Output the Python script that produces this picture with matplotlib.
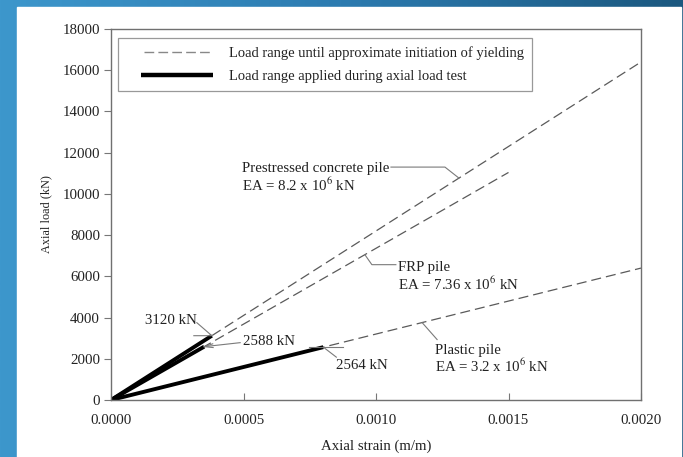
import matplotlib

matplotlib.use("Agg")

import matplotlib.pyplot as plt
import numpy as np
from matplotlib.legend_handler import HandlerLine2D
from matplotlib.lines import Line2D
from matplotlib.patches import Rectangle

plt.rcParams["font.family"] = ["Liberation Serif", "DejaVu Serif"]
plt.rcParams["mathtext.fontset"] = "stix"

# pile stiffness (kN) and load values
pile_names = ["Prestressed concrete pile", "FRP pile", "Plastic pile"]
pile_ea = [8.2e6, 7.36e6, 3.2e6]
ea_labels = ["8.2", "7.36", "3.2"]
strain_limit = [0.0020, 0.0015, 0.0020]
test_load = [3120, 2588, 2564]
# strain where each pile label's leader touches its line
leader_strain = [0.001313, 0.000958, 0.001174]

x_ticks = [0.0, 0.0005, 0.0010, 0.0015, 0.0020]
y_ticks = [0, 2000, 4000, 6000, 8000, 10000, 12000, 14000, 16000, 18000]

DASH_COLOR = "#5a5a5a"
LEADER_COLOR = "#7a7a7a"
TEXT_COLOR = "#222222"
FS = 10.7

fig = plt.figure(figsize=(6.83, 4.57), dpi=100)

# blue frame background with gradient
bg = fig.add_axes([0, 0, 1, 1], zorder=-10)
grad = np.linspace(0, 1, 256).reshape(1, -1)
cmap = matplotlib.colors.LinearSegmentedColormap.from_list("frame", ["#3d97cc", "#2c7bb0", "#1b587f"])
bg.imshow(grad, aspect="auto", cmap=cmap, extent=[0, 1, 0, 1])
bg.add_patch(Rectangle((17 / 683, 0), (681 - 17) / 683, 450 / 457, color="white"))
bg.set_xlim(0, 1)
bg.set_ylim(0, 1)
bg.axis("off")

ax = fig.add_axes([111 / 683, 57 / 457, 530 / 683, 371 / 457])

for ea, limit, load in zip(pile_ea, strain_limit, test_load):
    ax.plot([0, limit], [0, ea * limit], color=DASH_COLOR, lw=0.9, dashes=(8, 4))
    ax.plot([0, load / ea], [0, load], color="black", lw=2.8, solid_capstyle="butt")

ax.set_xlim(0, 0.002)
ax.set_ylim(0, 18000)
ax.set_xticks(x_ticks)
ax.set_xticklabels([f"{v:.4f}" for v in x_ticks])
ax.set_yticks(y_ticks)
ax.set_yticklabels([str(v) for v in y_ticks])
ax.tick_params(axis="x", direction="in", length=5, pad=10, labelsize=FS, colors="#777777", labelcolor=TEXT_COLOR)
ax.tick_params(axis="y", direction="out", length=5, pad=3, labelsize=FS, colors="#777777", labelcolor=TEXT_COLOR)
for spine in ax.spines.values():
    spine.set_color("#707070")
    spine.set_linewidth(1.0)

ax.set_xlabel("Axial strain (m/m)", fontsize=FS, color=TEXT_COLOR, labelpad=9)
ax.set_ylabel("Axial load (kN)", fontsize=8.8, color=TEXT_COLOR, labelpad=7.5)


class PaddedLine(HandlerLine2D):
    """Legend line that leaves blank room on its left, like the original."""

    def __init__(self, left_pad, **kw):
        super().__init__(marker_pad=0, **kw)
        self.left_pad = left_pad

    def create_artists(self, legend, orig_handle, xdescent, ydescent, width, height, fontsize, trans):
        return super().create_artists(legend, orig_handle, xdescent - self.left_pad, ydescent,
                                      width - self.left_pad, height, fontsize, trans)


dash_handle = Line2D([], [], color="#888888", lw=1.0, dashes=(7, 3))
solid_handle = Line2D([], [], color="black", lw=3.2, solid_capstyle="butt")
leg = ax.legend(
    [dash_handle, solid_handle],
    ["Load range until approximate initiation of yielding", "Load range applied during axial load test"],
    handler_map={dash_handle: PaddedLine(13), solid_handle: PaddedLine(11)},
    loc="upper left",
    bbox_to_anchor=(0.013, 0.976),
    borderaxespad=0,
    fontsize=10.5,
    handlelength=6.0,
    handletextpad=1.1,
    borderpad=0.55,
    labelspacing=0.7,
    fancybox=False,
    framealpha=1,
    edgecolor="#999999",
)
leg.get_frame().set_linewidth(0.9)
for t in leg.get_texts():
    t.set_color(TEXT_COLOR)


def tip_px(strain, load):
    """Data point in figure pixel coordinates."""
    return ax.transData.transform((strain, load))


def leader(tip, offsets, arrow=False):
    """Draw a leader polyline from a data tip through pixel offsets (y up)."""
    xs = [tip[0] + dx for dx, dy in offsets]
    ys = [tip[1] + dy for dx, dy in offsets]
    fig.add_artist(Line2D(xs, ys, transform=None, color=LEADER_COLOR, lw=0.8))
    if arrow:
        dx, dy = offsets[1][0] - offsets[0][0], offsets[1][1] - offsets[0][1]
        n = np.hypot(dx, dy)
        ux, uy = dx / n * 9, dy / n * 9
        for ang in (np.deg2rad(12), np.deg2rad(-12)):
            rx = ux * np.cos(ang) - uy * np.sin(ang)
            ry = ux * np.sin(ang) + uy * np.cos(ang)
            fig.add_artist(Line2D([tip[0], tip[0] + rx], [tip[1], tip[1] + ry],
                                  transform=None, color=LEADER_COLOR, lw=0.8))


def label(tip, dx, dy, text, ha="left"):
    fig.text(tip[0] + dx, tip[1] + dy, text, transform=None, fontsize=FS, color=TEXT_COLOR,
             ha=ha, va="center", linespacing=1.08, multialignment="left")


# test load end point annotations
ends = [tip_px(load / ea, load) for ea, load in zip(pile_ea, test_load)]

leader(ends[0], [(-18, 0), (0, 0), (-15, 13)])
label(ends[0], -41, 15, f"{test_load[0]} kN", ha="center")

leader(ends[1], [(0, 0), (36, 4)], arrow=True)
label(ends[1], 39, 5, f"{test_load[1]} kN")

leader(ends[2], [(-14, 0), (20, 0)])
leader(ends[2], [(0, 0), (13, -10)])
label(ends[2], 13, -18, f"{test_load[2]} kN")

# pile labels with leader lines
pile_leaders = [
    [(0, 0), (-14, 11), (-68, 11)],
    [(0, 0), (7, -10), (31, -10)],
    [(0, 0), (15, -17)],
]
pile_text_pos = [
    (-70, 0, "right"),
    (33, -22, "left"),
    (13, -37, "left"),
]
for i, name in enumerate(pile_names):
    tip = tip_px(leader_strain[i], pile_ea[i] * leader_strain[i])
    leader(tip, pile_leaders[i])
    dx, dy, ha = pile_text_pos[i]
    label(tip, dx, dy, f"{name}\nEA = {ea_labels[i]} x 10$^6$ kN", ha=ha)

fig.savefig("out.png", dpi=100)
